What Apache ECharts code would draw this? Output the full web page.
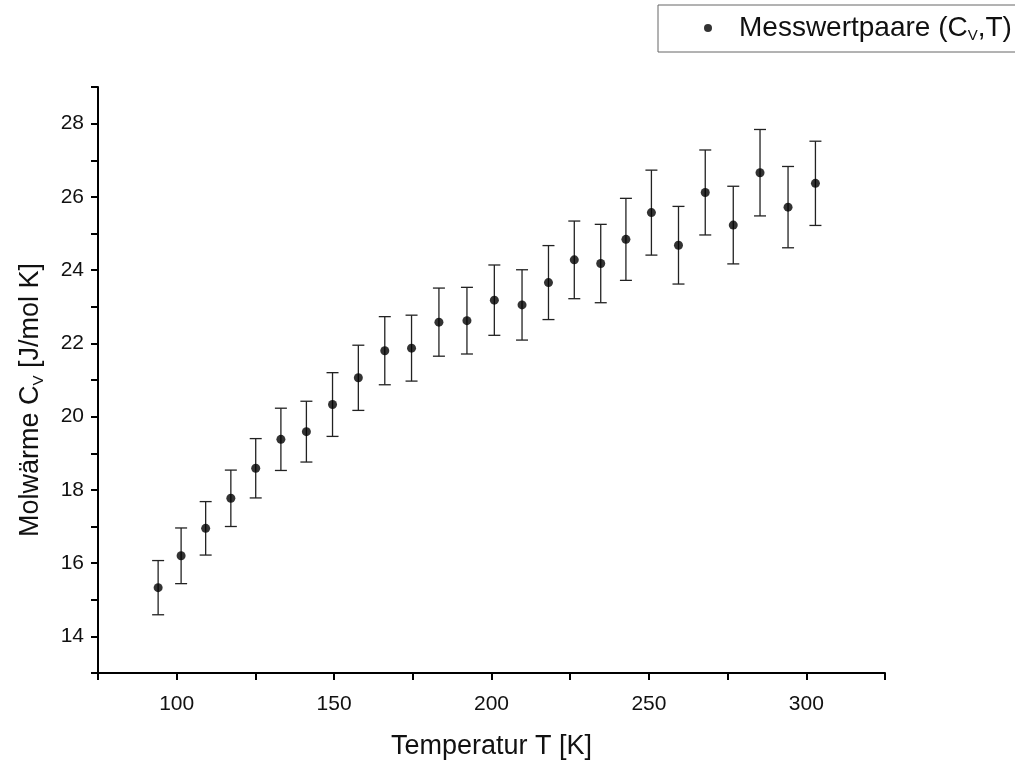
<!DOCTYPE html>
<html lang="de">
<head>
    <meta charset="utf-8">
    <title>Molwärme Cv über Temperatur</title>
    <script src="https://cdn.jsdelivr.net/npm/echarts@6/dist/echarts.min.js"></script>
    <style>
        html, body, #main {
            width: 100%;
            height: 100%;
            margin: 0;
            padding: 0;
            background-color: #ffffff;
            overflow: hidden;
        }
    </style>
</head>
<body>
    <div id="main"></div>
    <script>
        var temps = [94.1, 101.4, 109.2, 117.2, 125.1, 133.1, 141.2, 149.5, 157.7, 166.1, 174.6, 183.3, 192.2,
            200.9, 209.7, 218.1, 226.3, 234.7, 242.7, 250.8, 259.4, 267.9, 276.8, 285.3, 294.2, 302.9];
        var cv = [15.33, 16.20, 16.95, 17.77, 18.59, 19.38, 19.59, 20.33, 21.06, 21.80, 21.87, 22.58, 22.62,
            23.18, 23.05, 23.66, 24.28, 24.18, 24.84, 25.57, 24.68, 26.12, 25.23, 26.66, 25.72, 26.37];
        var cvErr = [0.74, 0.76, 0.73, 0.77, 0.81, 0.85, 0.83, 0.87, 0.89, 0.93, 0.90, 0.93, 0.91,
            0.96, 0.96, 1.01, 1.06, 1.07, 1.12, 1.16, 1.06, 1.16, 1.06, 1.18, 1.11, 1.15];

        var xLabels = [100, 150, 200, 250, 300];
        var yLabels = [14, 16, 18, 20, 22, 24, 26, 28];

        var fontFam = '"Liberation Sans", Arial, sans-serif';

        var points = [];
        var bars = [];
        for (var i = 0; i < temps.length; i++) {
            points.push([temps[i], cv[i]]);
            bars.push([temps[i], cv[i], cvErr[i]]);
        }

        var chart = echarts.init(document.getElementById('main'));

        var richSub = {
            a: { fontSize: 27, lineHeight: 30, fontFamily: fontFam, color: '#111' },
            s: { fontSize: 15, lineHeight: 8, verticalAlign: 'bottom', fontFamily: fontFam, color: '#111' }
        };

        var option = {
            backgroundColor: '#ffffff',
            animation: false,
            grid: {
                left: 98,
                right: 130,
                top: 87,
                bottom: 90,
                containLabel: false,
                outerBoundsMode: 'none'
            },
            legend: {
                left: 658,
                top: 5,
                data: ['Messwertpaare'],
                icon: 'circle',
                itemWidth: 52,
                itemHeight: 8,
                padding: [9, 40, 9, 46],
                borderColor: '#666',
                borderWidth: 1,
                formatter: function () {
                    return '{a|Messwertpaare (C}{s|V}{a|,T)}';
                },
                textStyle: {
                    color: '#111',
                    fontFamily: fontFam,
                    rich: {
                        a: { fontSize: 28, lineHeight: 30, fontFamily: fontFam, color: '#111' },
                        s: { fontSize: 15, lineHeight: 8, verticalAlign: 'bottom', fontFamily: fontFam, color: '#111' }
                    }
                }
            },
            xAxis: {
                type: 'value',
                min: 75,
                max: 325,
                interval: 25,
                name: 'Temperatur T [K]',
                nameLocation: 'middle',
                nameGap: 60,
                nameTextStyle: { fontSize: 27, color: '#111', fontFamily: fontFam },
                splitLine: { show: false },
                axisLine: { onZero: false, lineStyle: { color: '#000', width: 2 } },
                axisTick: { inside: false, length: 7, lineStyle: { color: '#000', width: 2 } },
                axisLabel: {
                    margin: 21,
                    fontSize: 21,
                    color: '#111',
                    fontFamily: fontFam,
                    formatter: function (v) {
                        return xLabels.indexOf(v) >= 0 ? String(v) : '';
                    }
                }
            },
            yAxis: {
                type: 'value',
                min: 13,
                max: 29,
                interval: 1,
                name: '{a|Molwärme C}{s|V}{a| [J/mol K]}',
                nameLocation: 'middle',
                nameGap: 52,
                nameTextStyle: {
                    color: '#111',
                    fontFamily: fontFam,
                    padding: [0, 40, 0, 0],
                    rich: richSub
                },
                splitLine: { show: false },
                axisLine: { onZero: false, lineStyle: { color: '#000', width: 2 } },
                axisTick: { inside: false, length: 7, lineStyle: { color: '#000', width: 2 } },
                axisLabel: {
                    margin: 14,
                    fontSize: 21,
                    color: '#111',
                    fontFamily: fontFam,
                    formatter: function (v) {
                        return yLabels.indexOf(v) >= 0 ? String(v) : '';
                    }
                }
            },
            series: [
                {
                    // Fehlerbalken
                    name: 'Fehler',
                    type: 'custom',
                    data: bars,
                    encode: { x: 0, y: 1 },
                    z: 1,
                    renderItem: function (params, api) {
                        var x = api.value(0);
                        var y = api.value(1);
                        var e = api.value(2);
                        var top = api.coord([x, y + e]);
                        var bot = api.coord([x, y - e]);
                        var half = 6;
                        var style = { stroke: '#222', lineWidth: 1.3 };
                        return {
                            type: 'group',
                            children: [
                                { type: 'line', shape: { x1: top[0], y1: top[1], x2: bot[0], y2: bot[1] }, style: style },
                                { type: 'line', shape: { x1: top[0] - half, y1: top[1], x2: top[0] + half, y2: top[1] }, style: style },
                                { type: 'line', shape: { x1: bot[0] - half, y1: bot[1], x2: bot[0] + half, y2: bot[1] }, style: style }
                            ]
                        };
                    }
                },
                {
                    name: 'Messwertpaare',
                    type: 'scatter',
                    data: points,
                    symbol: 'circle',
                    symbolSize: 9,
                    z: 2,
                    itemStyle: { color: '#000' }
                }
            ]
        };

        chart.setOption(option);
    </script>
</body>
</html>
